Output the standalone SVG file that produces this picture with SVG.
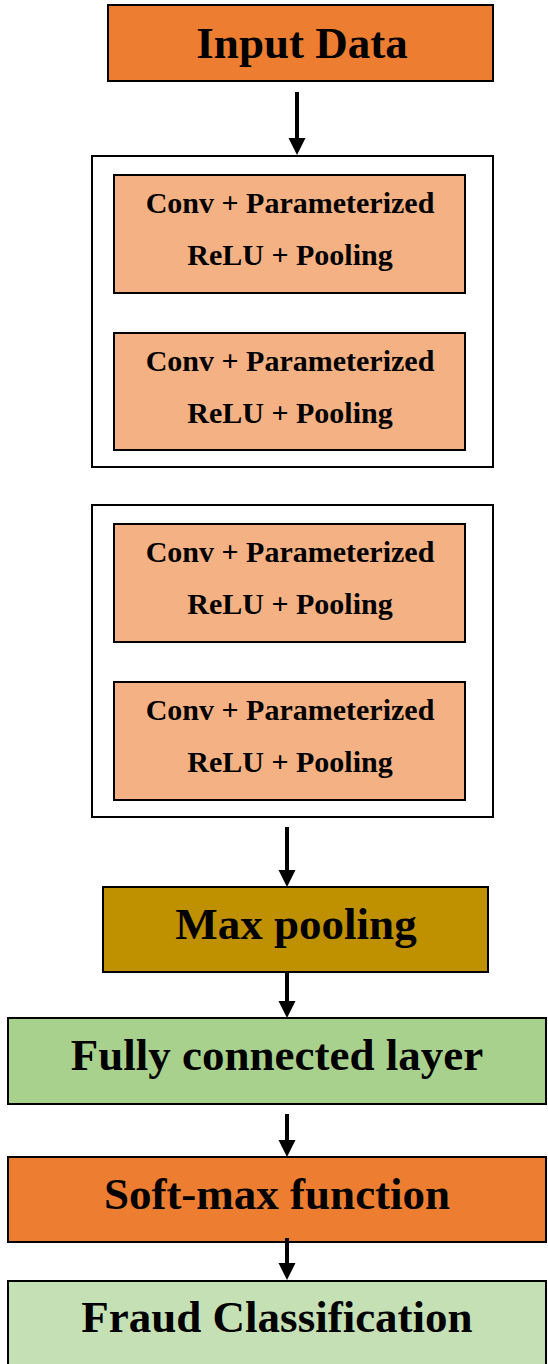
<svg xmlns="http://www.w3.org/2000/svg" width="548" height="1364" viewBox="0 0 548 1364">
<style>
.box{stroke:#000;stroke-width:2}
.outer{fill:#fff;stroke:#000;stroke-width:2}
.big{font-family:"Liberation Serif","Times New Roman",serif;font-weight:bold;font-size:45px;fill:#000;text-anchor:middle}
.small{font-family:"Liberation Serif","Times New Roman",serif;font-weight:bold;font-size:30px;fill:#000;text-anchor:middle}
.shaft{stroke:#000;stroke-width:4}
.head{fill:#000}
.conv{fill:#F4B183}
</style>
<rect width="548" height="1364" fill="#fff"/>
<g id="input-data">
<rect class="box" x="108" y="5" width="385" height="76" fill="#ED7D31"/>
<text class="big" x="302" y="58">Input Data</text>
</g>
<g id="block-1">
<rect class="outer" x="92" y="156" width="401" height="311"/>
<g id="conv-1">
<rect class="box conv" x="114" y="175" width="351" height="118"/>
<text class="small" x="290" y="213">Conv + Parameterized</text>
<text class="small" x="290" y="265">ReLU + Pooling</text>
</g>
<g id="conv-2">
<rect class="box conv" x="114" y="333" width="351" height="117"/>
<text class="small" x="290" y="371">Conv + Parameterized</text>
<text class="small" x="290" y="423">ReLU + Pooling</text>
</g>
</g>
<g id="block-2">
<rect class="outer" x="92" y="505" width="401" height="312"/>
<g id="conv-3">
<rect class="box conv" x="114" y="524" width="351" height="118"/>
<text class="small" x="290" y="562">Conv + Parameterized</text>
<text class="small" x="290" y="614">ReLU + Pooling</text>
</g>
<g id="conv-4">
<rect class="box conv" x="114" y="682" width="351" height="118"/>
<text class="small" x="290" y="720">Conv + Parameterized</text>
<text class="small" x="290" y="772">ReLU + Pooling</text>
</g>
</g>
<g id="max-pooling">
<rect class="box" x="103" y="887" width="385" height="85" fill="#BF9000"/>
<text class="big" x="296" y="939">Max pooling</text>
</g>
<g id="fully-connected">
<rect class="box" x="8" y="1018" width="538" height="86" fill="#A9D18E"/>
<text class="big" x="277" y="1070">Fully connected layer</text>
</g>
<g id="soft-max">
<rect class="box" x="8" y="1157" width="538" height="85" fill="#ED7D31"/>
<text class="big" x="277" y="1209">Soft-max function</text>
</g>
<g id="fraud-classification">
<rect class="box" x="8" y="1281" width="538" height="95" fill="#C5E0B4"/>
<text class="big" x="277" y="1332">Fraud Classification</text>
</g>
<g id="connectors">
<line class="shaft" x1="297" y1="92" x2="297" y2="140"/>
<polygon class="head" points="288.5,138 305.5,138 297,155"/>
<line class="shaft" x1="287" y1="827" x2="287" y2="872"/>
<polygon class="head" points="278.5,870 295.5,870 287,887"/>
<line class="shaft" x1="287" y1="972" x2="287" y2="1003"/>
<polygon class="head" points="278.5,1001 295.5,1001 287,1018"/>
<line class="shaft" x1="287" y1="1114" x2="287" y2="1142"/>
<polygon class="head" points="278.5,1140 295.5,1140 287,1157"/>
<line class="shaft" x1="287" y1="1238" x2="287" y2="1265"/>
<polygon class="head" points="278.5,1263 295.5,1263 287,1280"/>
</g>
</svg>
